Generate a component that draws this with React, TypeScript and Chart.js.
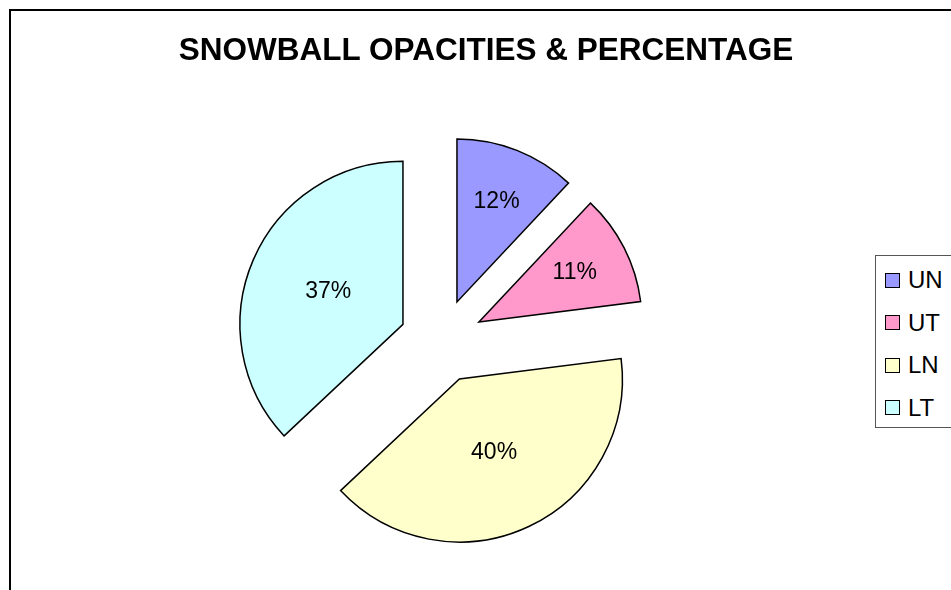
import React, { useEffect, useRef } from "react";
import { Chart, registerables } from "chart.js";

Chart.register(...registerables);

const TITLE = "SNOWBALL OPACITIES & PERCENTAGE";
const categories = ["UN", "UT", "LN", "LT"];
const values = [12, 11, 40, 37];
const colors = ["#9999FF", "#FF99CC", "#FFFFCC", "#CCFFFF"];

const FONT = "'Liberation Sans', Arial, Helvetica, sans-serif";
const EXPLODE = 42; // pixel distance each slice is pulled out
const RADIUS = 163;

export default function App() {
  const canvasRef = useRef<HTMLCanvasElement | null>(null);

  useEffect(() => {
    const canvas = canvasRef.current;
    if (!canvas) return;
    const total = values.reduce((a, b) => a + b, 0);

    // Draw each arc element pulled out along its bisector (Excel-style explode)
    const explodePlugin = {
      id: "explode",
      beforeDatasetDraw(chart: any, args: any) {
        const ctx = chart.ctx;
        const meta = args.meta;
        meta.data.forEach((arc: any) => {
          const p = arc.getProps(["startAngle", "endAngle"], true);
          const mid = (p.startAngle + p.endAngle) / 2;
          ctx.save();
          ctx.translate(Math.cos(mid) * EXPLODE, Math.sin(mid) * EXPLODE);
          arc.draw(ctx, chart.chartArea);
          ctx.restore();
        });
        return false;
      },
    };

    const labelPlugin = {
      id: "pctLabels",
      afterDatasetsDraw(chart: any) {
        const ctx = chart.ctx;
        const meta = chart.getDatasetMeta(0);
        ctx.save();
        ctx.font = `23px ${FONT}`;
        ctx.fillStyle = "#000";
        ctx.textAlign = "center";
        ctx.textBaseline = "middle";
        meta.data.forEach((arc: any, i: number) => {
          const p = arc.getProps(["x", "y", "startAngle", "endAngle", "outerRadius"], true);
          const mid = (p.startAngle + p.endAngle) / 2;
          const circ = p.endAngle - p.startAngle;
          const f = circ < 1.2 ? 0.66 : 0.5;
          const d = EXPLODE + p.outerRadius * f;
          const x = p.x + Math.cos(mid) * d;
          const y = p.y + Math.sin(mid) * d;
          const pct = Math.round((values[i] / total) * 100) + "%";
          ctx.fillText(pct, x, y);
        });
        ctx.restore();
      },
    };

    const chart = new Chart(canvas, {
      type: "pie",
      data: {
        labels: categories,
        datasets: [
          {
            data: values,
            backgroundColor: colors,
            borderColor: "#000",
            borderWidth: 1.5,
            borderJoinStyle: "miter",
            radius: RADIUS,
            offset: 0,
            hoverOffset: 0,
          } as any,
        ],
      },
      options: {
        responsive: false,
        animation: false,
        maintainAspectRatio: false,
        layout: { padding: { left: 200, right: 268, top: 140, bottom: 48 } },
        plugins: {
          legend: { display: false },
          title: { display: false },
          tooltip: { enabled: false },
        },
        events: [],
      } as any,
      plugins: [explodePlugin, labelPlugin],
    });
    return () => chart.destroy();
  }, []);

  return (
    <div
      style={{
        position: "fixed",
        left: 0,
        top: 0,
        width: 951,
        height: 590,
        overflow: "hidden",
        background: "#fff",
        fontFamily: FONT,
      }}
    >
      <div
        style={{
          position: "absolute",
          left: 9,
          top: 9,
          width: 1200,
          height: 1200,
          border: "2px solid #000",
        }}
      />
      <canvas
        ref={canvasRef}
        width={951}
        height={590}
        style={{ position: "absolute", left: 0, top: 0, width: 951, height: 590 }}
      />
      <div
        style={{
          position: "absolute",
          left: 0,
          top: 34,
          width: 972,
          textAlign: "center",
          fontSize: 31.5,
          lineHeight: "31px",
          fontWeight: "bold",
          color: "#000",
          whiteSpace: "nowrap",
        }}
      >
        {TITLE}
      </div>
      <div
        style={{
          position: "absolute",
          left: 875,
          top: 255,
          width: 200,
          height: 171,
          border: "1px solid #555",
          background: "#fff",
          boxSizing: "content-box",
        }}
      >
        {categories.map((c, i) => (
          <div
            key={c}
            style={{
              position: "absolute",
              left: 0,
              top: 12 + i * 42.5,
              height: 24,
              display: "flex",
              alignItems: "center",
            }}
          >
            <span
              style={{
                display: "inline-block",
                marginLeft: 9,
                width: 13,
                height: 13,
                border: "1.5px solid #000",
                background: colors[i],
              }}
            />
            <span
              style={{
                marginLeft: 8,
                fontSize: 24,
                lineHeight: "24px",
                color: "#000",
              }}
            >
              {c}
            </span>
          </div>
        ))}
      </div>
    </div>
  );
}
